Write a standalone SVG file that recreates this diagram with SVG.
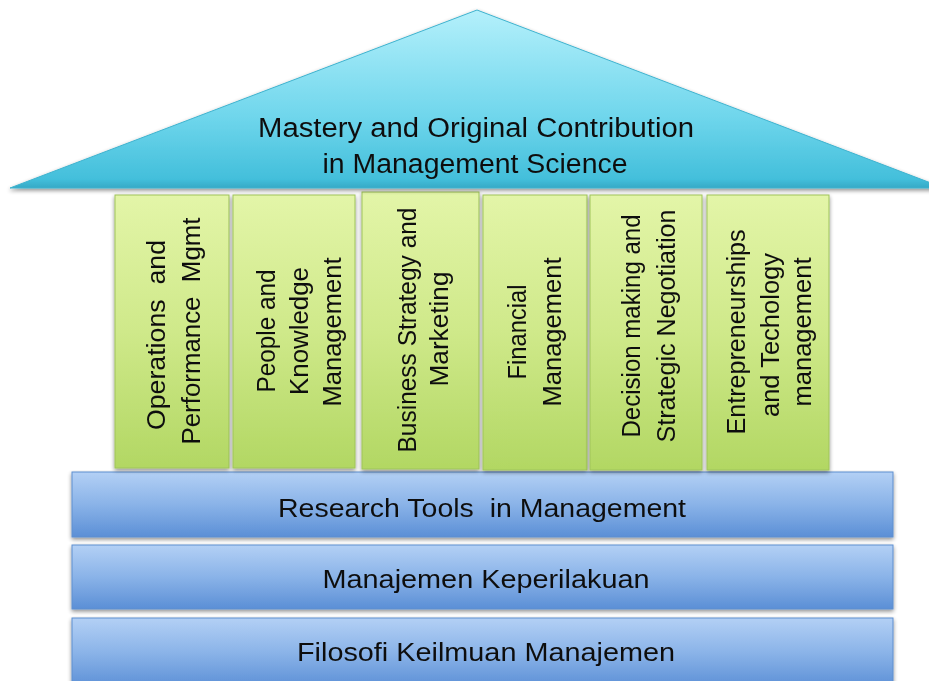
<svg xmlns="http://www.w3.org/2000/svg" width="929" height="681" viewBox="0 0 929 681">
<defs>
<linearGradient id="roofG" x1="0" y1="0" x2="0" y2="1">
<stop offset="0" stop-color="#b4f0fb"/>
<stop offset="0.6" stop-color="#6fd6ec"/>
<stop offset="0.95" stop-color="#43bfdb"/>
<stop offset="1" stop-color="#36a9c6"/>
</linearGradient>
<linearGradient id="pilG" x1="0" y1="0" x2="0" y2="1">
<stop offset="0" stop-color="#e3f5a8"/>
<stop offset="0.5" stop-color="#cfe98a"/>
<stop offset="1" stop-color="#b2d763"/>
</linearGradient>
<linearGradient id="barG" x1="0" y1="0" x2="0" y2="1">
<stop offset="0" stop-color="#b3d0f5"/>
<stop offset="0.5" stop-color="#8ab3e8"/>
<stop offset="1" stop-color="#5b8fd6"/>
</linearGradient>
<filter id="sh" x="-5%" y="-5%" width="110%" height="115%">
<feGaussianBlur in="SourceAlpha" stdDeviation="2"/>
<feOffset dx="0" dy="2" result="b"/>
<feComponentTransfer><feFuncA type="linear" slope="0.45"/></feComponentTransfer>
<feMerge><feMergeNode/><feMergeNode in="SourceGraphic"/></feMerge>
</filter>
</defs>
<style>
.t{font-family:"Liberation Sans",Arial,sans-serif;fill:#111;text-anchor:middle}
.roof{fill:url(#roofG);stroke:#3fb3cf;stroke-width:1}
.pil{fill:url(#pilG);stroke:#9fc45a;stroke-width:1}
.bar{fill:url(#barG);stroke:#5f8fcf;stroke-width:1}
.big{font-size:27px}
.bt{font-size:25px}
.pt{font-size:25px}
</style>
<g id="base3" filter="url(#sh)">
<rect class="bar" x="72" y="618" width="821" height="70"/>
<text class="t bt" x="486" y="661" textLength="378" lengthAdjust="spacingAndGlyphs">Filosofi Keilmuan Manajemen</text>
</g>
<g id="base2" filter="url(#sh)">
<rect class="bar" x="72" y="545" width="821" height="64"/>
<text class="t bt" x="486" y="588" textLength="327" lengthAdjust="spacingAndGlyphs">Manajemen Keperilakuan</text>
</g>
<g id="base1" filter="url(#sh)">
<rect class="bar" x="72" y="472" width="821" height="65"/>
<text class="t bt" x="482" y="517" textLength="408" lengthAdjust="spacingAndGlyphs" xml:space="preserve">Research Tools  in Management</text>
</g>
<g id="pillar1" filter="url(#sh)">
<rect class="pil" x="115" y="195" width="114" height="273"/>
<text class="t pt" transform="translate(0,0) rotate(-90)" xml:space="preserve"><tspan x="-335" y="165" textLength="190" lengthAdjust="spacingAndGlyphs">Operations  and</tspan><tspan x="-331" y="200" textLength="227" lengthAdjust="spacingAndGlyphs">Performance  Mgmt</tspan></text>
</g>
<g id="pillar2" filter="url(#sh)">
<rect class="pil" x="233" y="195" width="122" height="273"/>
<text class="t pt" transform="rotate(-90)"><tspan x="-331" y="275" textLength="123" lengthAdjust="spacingAndGlyphs">People and</tspan><tspan x="-331" y="308" textLength="128" lengthAdjust="spacingAndGlyphs">Knowledge</tspan><tspan x="-332" y="341" textLength="149" lengthAdjust="spacingAndGlyphs">Management</tspan></text>
</g>
<g id="pillar3" filter="url(#sh)">
<rect class="pil" x="362" y="192" width="117" height="277"/>
<text class="t pt" transform="rotate(-90)"><tspan x="-330" y="416" textLength="245" lengthAdjust="spacingAndGlyphs">Business Strategy and</tspan><tspan x="-329" y="448" textLength="115" lengthAdjust="spacingAndGlyphs">Marketing</tspan></text>
</g>
<g id="pillar4" filter="url(#sh)">
<rect class="pil" x="483" y="195" width="104" height="275"/>
<text class="t pt" transform="rotate(-90)"><tspan x="-332" y="526" textLength="95" lengthAdjust="spacingAndGlyphs">Financial</tspan><tspan x="-332" y="561" textLength="149" lengthAdjust="spacingAndGlyphs">Management</tspan></text>
</g>
<g id="pillar5" filter="url(#sh)">
<rect class="pil" x="590" y="195" width="112" height="275"/>
<text class="t pt" transform="rotate(-90)"><tspan x="-326" y="640" textLength="223" lengthAdjust="spacingAndGlyphs">Decision making and</tspan><tspan x="-326" y="675" textLength="233" lengthAdjust="spacingAndGlyphs">Strategic Negotiation</tspan></text>
</g>
<g id="pillar6" filter="url(#sh)">
<rect class="pil" x="707" y="195" width="122" height="275"/>
<text class="t pt" transform="rotate(-90)"><tspan x="-332" y="745" textLength="205" lengthAdjust="spacingAndGlyphs">Entrepreneurships</tspan><tspan x="-335" y="779" textLength="164" lengthAdjust="spacingAndGlyphs">and Techology</tspan><tspan x="-332" y="811" textLength="149" lengthAdjust="spacingAndGlyphs">management</tspan></text>
</g>
<g id="roof" filter="url(#sh)">
<polygon class="roof" points="477,10 10,188 944,188"/>
<text class="t big" x="476" y="137" textLength="436" lengthAdjust="spacingAndGlyphs">Mastery and Original Contribution</text>
<text class="t big" x="475" y="173" textLength="305" lengthAdjust="spacingAndGlyphs">in Management Science</text>
</g>
<g id="connectors"/>
</svg>
